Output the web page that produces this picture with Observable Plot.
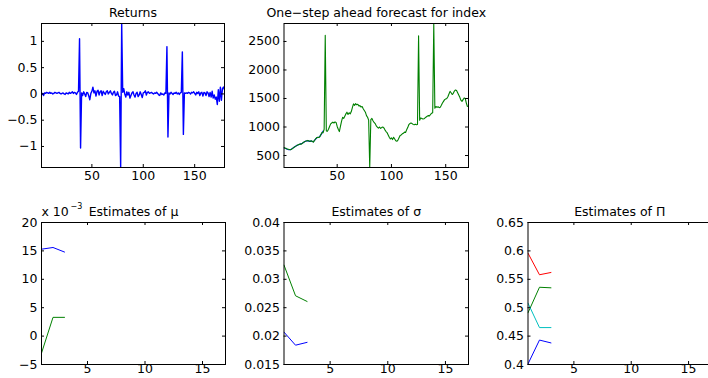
<!DOCTYPE html>
<html><head><meta charset="utf-8">
<script src="https://cdn.jsdelivr.net/npm/d3@7"></script>
<script src="https://cdn.jsdelivr.net/npm/@observablehq/plot@0.6"></script>
<style>
body{margin:0;background:#fff;}
#c{position:relative;width:708px;height:378px;overflow:hidden;background:#fff;}
#c svg{position:absolute;left:0;top:0;}
</style></head><body><div id="c"></div>
<script>
// ---- data ----
const returns = [
 -0.02, 0.01,-0.03, 0.02, 0.01, 0.03, 0.02, 0.01, 0.03, 0.01,
  0.02, 0.00, 0.01, 0.03, 0.02, 0.01, 0.02, 0.03, 0.01, 0.00,
  0.01, 0.02, 0.00,-0.01, 0.02, 0.01, 0.00, 0.03, 0.01, 0.02,
  0.04, 0.01, 0.03, 0.02,-0.01, 0.03, 0.05, 1.05,-1.03, 0.02,
 -0.03, 0.04, 0.00,-0.05, 0.03, 0.02,-0.04,-0.11, 0.01, 0.05,
  0.13, 0.02, 0.06,-0.04, 0.05, 0.07,-0.02, 0.04, 0.06,-0.03,
  0.05, 0.02,-0.01, 0.04, 0.06, 0.00, 0.03, 0.06, 0.01,-0.02,
  0.03, 0.05,-0.03,-0.02, 0.04,-0.04,-0.05,-1.40, 1.34, 0.03,
  0.10, 0.00,-0.06, 0.04,-0.02, 0.03,-0.08,-0.03, 0.02, 0.04,
 -0.02,-0.06, 0.01, 0.03,-0.05,-0.02, 0.04,-0.01,-0.07, 0.02,
  0.03, 0.06,-0.02, 0.03, 0.04, 0.01, 0.02, 0.03, 0.01, 0.00,
  0.02, 0.01, 0.03, 0.01,-0.02,-0.03, 0.02,-0.01, 0.00,-0.02,
  0.02, 0.01, 0.90,-0.82, 0.02, 0.00, 0.03, 0.01,-0.01, 0.02,
  0.01, 0.03, 0.00, 0.02,-0.01, 0.02, 0.03, 0.80,-0.77, 0.02,
  0.01, 0.02, 0.01, 0.03, 0.02, 0.00, 0.03, 0.02, 0.04, 0.01,
 -0.02, 0.03, 0.01, 0.04,-0.03, 0.02, 0.03,-0.04, 0.03, 0.02,
 -0.03, 0.04, 0.02,-0.05, 0.03,-0.06, 0.05,-0.08,-0.02,-0.10,
 -0.06,-0.20, 0.08,-0.14, 0.13,-0.12, 0.10, 0.13, 0.08
];
const forecast = [
  640, 630, 625, 615, 610, 605, 600, 610, 625, 640,
  655, 665, 675, 690, 695, 700, 700, 715, 730, 745,
  750, 760, 765, 755, 745, 760, 750, 735, 760, 790,
  810, 820, 815, 830, 870, 905, 900, 960,2610, 930,
  925, 960,1010,1055,1070,1085,1070,1090,1080,1010,
  960, 920,1010,1100,1170,1150,1190,1230,1260,1220,
 1250,1230,1270,1340,1405,1380,1410,1390,1400,1370,
 1375,1350,1360,1320,1290,1260,1200,1170,1120, 290,
 1130,1150,1110,1080,1060,1020,1000, 980,1000, 975,
  990,1000, 985, 950, 920, 900, 860, 820, 790, 810,
  780, 820, 790, 760, 750, 770, 810, 850, 860, 880,
  890, 910, 905, 950, 990,1040,1060,1070,1060,1045,
 1040,1050,1040,1045,2600,1120,1160,1150,1140,1145,
 1160,1175,1190,1200,1195,1220,1240,1250,2815,1330,
 1360,1345,1355,1340,1345,1380,1420,1450,1480,1490,
 1500,1530,1580,1625,1600,1570,1590,1630,1650,1640,
 1600,1560,1520,1470,1450,1480,1510,1500,1420,1360
];
const actualIndex = [
  632, 626, 620, 612, 604, 600, 604, 616, 628, 642,
  652, 668, 680, 686, 694, 704, 706, 718, 728, 742,
  754, 756, 760, 752, 748, 756, 746, 740, 764, 784,
  806, 816, 820, 836, 862, 892, 930
];
const muBlue   = [0.0153, 0.0156, 0.0148];
const muGreen  = [-0.0030, 0.0033, 0.0033];
const sigBlue  = [0.0207, 0.0184, 0.0189];
const sigGreen = [0.0325, 0.0271, 0.0261];
const piRed    = [0.596, 0.558, 0.562];
const piGreen  = [0.491, 0.536, 0.535];
const piCyan   = [0.508, 0.465, 0.465];
const piBlue   = [0.401, 0.443, 0.438];

const topXTicks = [50, 100, 150];
const botXTicks = [5, 10, 15];
const retYTicks = [-1, -0.5, 0, 0.5, 1];
const fcYTicks  = [500, 1000, 1500, 2000, 2500];
const muYTicks  = [-0.005, 0, 0.005, 0.01, 0.015, 0.02];
const sigYTicks = [0.015, 0.02, 0.025, 0.03, 0.035, 0.04];
const piYTicks  = [0.4, 0.45, 0.5, 0.55, 0.6, 0.65];

const BLUE = "#0000ff", GREEN = "#008000", RED = "#ff0000", CYAN = "#00bfbf";
const FONT = "'DejaVu Sans', 'Liberation Sans', Arial, sans-serif";
const FS = 12.5;

function series(arr, color, w) {
  return Plot.line(arr, {x: (d, i) => i + 1, y: d => d, stroke: color, strokeWidth: w, clip: true});
}

function panel({frame: [l, t, r, b], xDomain, yDomain, xTicks, yTicks, yFormat, marks, title, xPad = 4, extra = []}) {
  const W = 708, H = 378, tk = 3;
  const fw = r - l, fh = b - t;
  return Plot.plot({
    width: W, height: H,
    marginLeft: l, marginTop: t, marginRight: W - r, marginBottom: H - b,
    style: {fontFamily: FONT, fontSize: FS + "px", background: "transparent", color: "black"},
    x: {domain: xDomain}, y: {domain: yDomain},
    marks: [
      ...marks,
      Plot.frame({stroke: "black", strokeWidth: 1}),
      Plot.tickX(xTicks, {x: d => d, insetTop: fh - tk, stroke: "black"}),
      Plot.tickX(xTicks, {x: d => d, insetBottom: fh - tk, stroke: "black"}),
      Plot.tickY(yTicks, {y: d => d, insetRight: fw - tk, stroke: "black"}),
      Plot.tickY(yTicks, {y: d => d, insetLeft: fw - tk, stroke: "black"}),
      Plot.axisX({ticks: xTicks, tickSize: 0, tickPadding: xPad, label: null, fontSize: FS}),
      Plot.axisY({ticks: yTicks, tickSize: 0, tickPadding: 4, label: null, tickFormat: yFormat, fontSize: FS}),
      Plot.text([title], {frameAnchor: "top", dy: -11, text: d => d, lineAnchor: "middle", fontSize: FS}),
      ...extra
    ]
  });
}

const c = document.getElementById("c");

c.append(panel({
  frame: [41, 23, 224, 167], xDomain: [1, 179], yDomain: [-1.4, 1.34],
  xTicks: topXTicks, yTicks: retYTicks, yFormat: d3.format("~g"),
  marks: [series(returns, BLUE, 1.4)], title: "Returns"
}));

c.append(panel({
  frame: [283.5, 23, 468, 167], xDomain: [1, 171], yDomain: [290, 2815],
  xTicks: topXTicks, yTicks: fcYTicks, yFormat: d => String(d),
  marks: [series(actualIndex, BLUE, 1.1), series(forecast, GREEN, 1.1)],
  title: "One\u2212step ahead forecast for index"
}));

c.append(panel({
  frame: [41, 222, 225, 364], xDomain: [1, 17], yDomain: [-0.005, 0.02],
  xTicks: botXTicks, yTicks: muYTicks, yFormat: d => d3.format("~g")(Math.round(d * 1000)),
  marks: [series(muBlue, BLUE, 1), series(muGreen, GREEN, 1)],
  title: "Estimates of \u03bc", xPad: 0,
  extra: [
    Plot.text(["x 10"], {frameAnchor: "top-left", dy: -11, dx: 0, text: d => d, textAnchor: "start", lineAnchor: "middle", fontSize: FS}),
    Plot.text(["\u22123"], {frameAnchor: "top-left", dy: -16, dx: 29, text: d => d, textAnchor: "start", lineAnchor: "middle", fontSize: 8})
  ]
}));

c.append(panel({
  frame: [283.5, 222, 468, 364], xDomain: [1, 17], yDomain: [0.015, 0.04],
  xTicks: botXTicks, yTicks: sigYTicks, yFormat: d3.format("~g"),
  marks: [series(sigBlue, BLUE, 1), series(sigGreen, GREEN, 1)],
  title: "Estimates of \u03c3", xPad: 0
}));

c.append(panel({
  frame: [527.5, 222, 711, 364], xDomain: [1, 17], yDomain: [0.4, 0.65],
  xTicks: botXTicks, yTicks: piYTicks, yFormat: d3.format("~g"),
  marks: [series(piBlue, BLUE, 1), series(piGreen, GREEN, 1), series(piCyan, CYAN, 1), series(piRed, RED, 1)],
  title: "Estimates of \u03a0", xPad: 0
}));
</script>
</body></html>
